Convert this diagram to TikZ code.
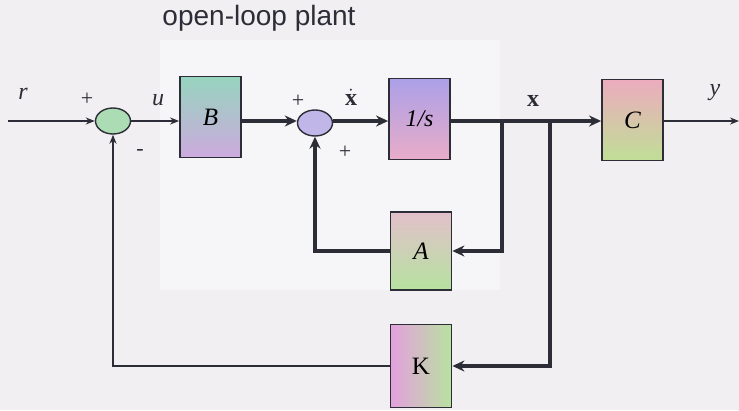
\documentclass[tikz,border=0pt]{standalone}
\usepackage{fontspec}
\setmainfont{Liberation Serif}
\newfontfamily\plainsans{Liberation Sans}
\usetikzlibrary{arrows.meta,shapes.geometric}
\definecolor{bgc}{RGB}{241,239,242}
\definecolor{panel}{RGB}{246,245,247}
\definecolor{ln}{RGB}{45,45,55}
\tikzset{
  blk/.style={draw=ln, line width=1.8pt, minimum width=61pt, minimum height=81pt, inner sep=0pt, font=\fontsize{25}{25}\selectfont},
  sumnode/.style={ellipse, draw=ln, line width=1.4pt, minimum width=35pt, minimum height=26pt, inner sep=0pt},
  thinw/.style={draw=ln, line width=1.6pt, -{Stealth[length=9pt,width=7pt]}},
  thickw/.style={draw=ln, line width=3.6pt, -{Stealth[length=12pt,width=11pt]}},
  thickl/.style={draw=ln, line width=3.6pt},
  lbl/.style={font=\fontsize{24}{24}\selectfont, text=ln, inner sep=0pt},
  sgn/.style={font=\fontsize{22}{22}\selectfont, text=ln, inner sep=0pt}
}
\begin{document}
\begin{tikzpicture}[x=1pt,y=-1pt]
\fill[bgc] (0,0) rectangle (739,410);
\useasboundingbox (0,0) rectangle (739,410);
\fill[panel] (160,40) rectangle (500,290);
\node[font=\plainsans\fontsize{28}{28}\selectfont, text=ln] (title) at (259,18) {open-loop plant};
% blocks
\node[blk, top color={rgb,255:red,150;green,212;blue,190}, bottom color={rgb,255:red,205;green,170;blue,222}] (B) at (210.5,117) {\textit{B}};
\node[blk, font=\fontsize{24}{24}\selectfont, top color={rgb,255:red,172;green,160;blue,232}, bottom color={rgb,255:red,232;green,172;blue,200}] (I) at (419.5,119) {\textit{1/s}};
\node[blk, top color={rgb,255:red,236;green,172;blue,190}, bottom color={rgb,255:red,192;green,222;blue,150}] (C) at (632.5,120) {\textit{C}};
\node[blk, minimum height=78pt, top color={rgb,255:red,226;green,192;blue,202}, bottom color={rgb,255:red,182;green,226;blue,160}] (A) at (421,251) {\textit{A}};
\node[blk, minimum height=83pt, left color={rgb,255:red,228;green,160;blue,222}, right color={rgb,255:red,184;green,226;blue,160}] (K) at (421,366) {K};
% summing junctions
\node[sumnode, fill={rgb,255:red,172;green,220;blue,180}] (s1) at (113,121) {};
\node[sumnode, fill={rgb,255:red,192;green,182;blue,232}] (s2) at (315,123) {};
% free ends and branch points
\coordinate (rin) at (8,121);
\coordinate (yout) at (739,121);
\coordinate (bA) at (502,121);
\coordinate (bK) at (550,121);
% connectors
\draw[thinw] (rin) -- (s1);
\draw[thinw] (s1) -- (B.west |- s1);
\draw[thickw] (B.east |- s1) -- (s2.west |- s1);
\draw[thickw] (s2.east |- s1) -- (I.west |- s1);
\draw[thickl] (I.east |- s1) -- (bA);
\draw[thickw] (bA) -- (C.west |- bA);
\draw[thinw] (C.east |- bA) -- (yout);
\draw[thickw] (bA) |- (A.east);
\draw[thickw] (A.west) -| (s2.south);
\draw[thickw] (bK) |- (K.east);
\draw[thinw] (K.west) -| (s1.south);
% labels
\node[lbl] (lr) at (23,94) {\textit{r}};
\node[lbl] (lu) at (158,100) {\textit{u}};
\node[lbl] (lxd) at (351,97) {$\dot{\mathbf{x}}$};
\node[lbl] (lx) at (533,101) {$\mathbf{x}$};
\node[lbl] (ly) at (715,93) {\textit{y}};
\node[sgn] (p1) at (87,99) {+};
\node[sgn] (m1) at (140,152) {-};
\node[sgn] (p2) at (298,101) {+};
\node[sgn] (p3) at (345,152) {+};
\end{tikzpicture}
\end{document}
